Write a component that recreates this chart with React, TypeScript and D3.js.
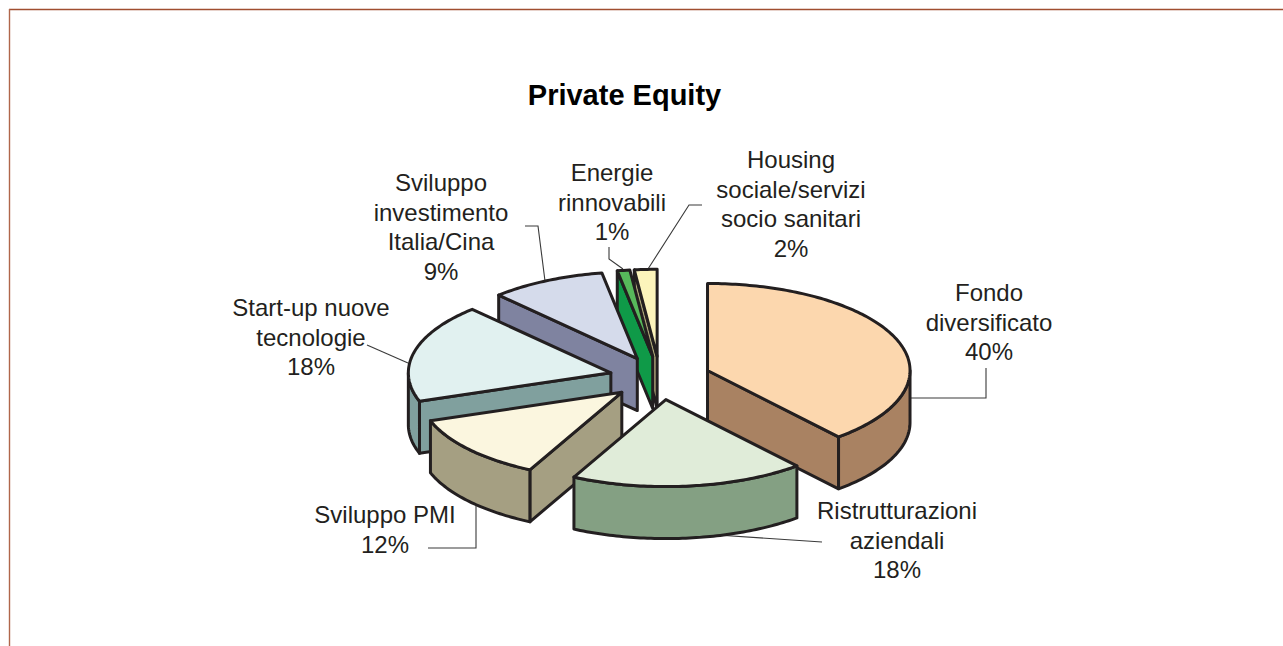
import React from "react";
import * as d3 from "d3";

// ---- data ----
const categories = [
  "Fondo diversificato",
  "Ristrutturazioni aziendali",
  "Sviluppo PMI",
  "Start-up nuove tecnologie",
  "Sviluppo investimento Italia/Cina",
  "Energie rinnovabili",
  "Housing sociale/servizi socio sanitari",
];
// slice sizes as measured on the drawing
const shares = [38.8, 18.7, 12.2, 18.3, 9.2, 1.0, 1.8];
// percentages as printed
const percentLabels = ["40%", "18%", "12%", "18%", "9%", "1%", "2%"];
const title = "Private Equity";

// ---- styling and layout ----
const W = 1283;
const H = 646;
const topColors = ["#fcd7ae", "#e0ecd9", "#fbf6df", "#e1f1f0", "#d5dbeb", "#57b95b", "#fcf4bb"];
const wallColors = ["#a98262", "#84a083", "#a59f82", "#80a09e", "#7f83a0", "#0f9a48", "#aca678"];
const paintOrder = [6, 5, 4, 3, 2, 0, 1];
const centre = { x: 660, y: 378 };
const Rx = 202.5;
const Ry = 87;
const depth = 52;
const explode = 0.25;
const ink = "#231f20";
const leaderInk = "#3a3a3a";
const labelFont = "'Liberation Sans', Arial, Helvetica, sans-serif";

const labelLines = [
  ["Fondo", "diversificato"],
  ["Ristrutturazioni", "aziendali"],
  ["Sviluppo PMI"],
  ["Start-up nuove", "tecnologie"],
  ["Sviluppo", "investimento", "Italia/Cina"],
  ["Energie", "rinnovabili"],
  ["Housing", "sociale/servizi", "socio sanitari"],
];
const labelAnchors = [
  { x: 989, y: 301 },
  { x: 897, y: 519 },
  { x: 385, y: 523 },
  { x: 311, y: 316 },
  { x: 441, y: 191 },
  { x: 612, y: 181 },
  { x: 791, y: 168 },
];
const leaders: [number, number][][] = [
  [[911, 398], [986, 398], [986, 368]],
  [[717, 535], [822, 542]],
  [[476, 505], [476, 548], [428, 548]],
  [[408, 363], [367, 345]],
  [[545, 281], [538, 226], [525, 226]],
  [[609, 247], [609, 259], [623, 269]],
  [[648, 269], [689, 205], [702, 205]],
];

const pieGen = d3
  .pie<number>()
  .sort(null)
  .value((d) => d)
  .startAngle(0)
  .endAngle(2 * Math.PI);

const lineGen = d3.line<[number, number]>();

function project(cx: number, cy: number, a: number, k = 1): [number, number] {
  return [cx + k * Rx * Math.sin(a), cy - k * Ry * Math.cos(a)];
}

function sampleAngles(a0: number, a1: number): number[] {
  const n = Math.max(2, Math.ceil(((a1 - a0) * 180) / Math.PI));
  return d3.range(n + 1).map((i) => a0 + ((a1 - a0) * i) / n);
}

export default function App() {
  const arcs = pieGen(shares);
  const leaderLine = d3.line();

  const slices = arcs.map((arc, i) => {
    const mid = (arc.startAngle + arc.endAngle) / 2;
    const [ax, ay] = project(centre.x, centre.y, mid, explode);
    const rim = sampleAngles(arc.startAngle, arc.endAngle).map((a) => project(ax, ay, a));
    const topPath = lineGen([[ax, ay], ...rim]) + "Z";

    const walls: string[] = [];
    // radial walls that face the viewer
    const radialWall = (a: number) => {
      const p = project(ax, ay, a);
      return (
        lineGen([
          [ax, ay],
          p,
          [p[0], p[1] + depth],
          [ax, ay + depth],
        ]) + "Z"
      );
    };
    if (Math.sin(arc.startAngle) < -1e-6) walls.push(radialWall(arc.startAngle));
    if (Math.sin(arc.endAngle) > 1e-6) walls.push(radialWall(arc.endAngle));
    // outer rim wall, front half only
    const f0 = Math.max(arc.startAngle, Math.PI / 2);
    const f1 = Math.min(arc.endAngle, (3 * Math.PI) / 2);
    if (f1 > f0) {
      const upper = sampleAngles(f0, f1).map((a) => project(ax, ay, a));
      const lower = upper.map(([x, y]) => [x, y + depth] as [number, number]).reverse();
      walls.push(lineGen([...upper, ...lower]) + "Z");
    }
    return { i, topPath, walls };
  });

  return (
    <svg
      width={W}
      height={H}
      viewBox={`0 0 ${W} ${H}`}
      style={{ position: "absolute", left: 0, top: 0, display: "block", background: "#fff" }}
    >
      {/* frame */}
      <line x1={9} y1={9.5} x2={W} y2={9.5} stroke="#a04e30" strokeWidth={1.4} />
      <line x1={9.5} y1={9} x2={9.5} y2={H} stroke="#b0664a" strokeWidth={1.4} />

      <text
        x={624.5}
        y={105}
        textAnchor="middle"
        fontFamily={labelFont}
        fontWeight="bold"
        fontSize={29}
        fill="#000"
      >
        {title}
      </text>

      {/* leader lines */}
      {leaders.map((pts, i) => (
        <path key={i} d={leaderLine(pts) ?? ""} fill="none" stroke={leaderInk} strokeWidth={1.1} />
      ))}

      {/* slices, back to front */}
      {paintOrder.map((idx) => {
        const s = slices[idx];
        return (
          <g key={categories[idx]} stroke={ink} strokeWidth={3} strokeLinejoin="round">
            {s.walls.map((d, j) => (
              <path key={j} d={d} fill={wallColors[idx]} />
            ))}
            <path d={s.topPath} fill={topColors[idx]} />
          </g>
        );
      })}

      {/* labels */}
      {categories.map((c, i) => (
        <text
          key={c}
          textAnchor="middle"
          fontFamily={labelFont}
          fontSize={24}
          fill={ink}
        >
          {[...labelLines[i], percentLabels[i]].map((line, j) => (
            <tspan key={j} x={labelAnchors[i].x} y={labelAnchors[i].y + j * 29.5}>
              {line}
            </tspan>
          ))}
        </text>
      ))}
    </svg>
  );
}
